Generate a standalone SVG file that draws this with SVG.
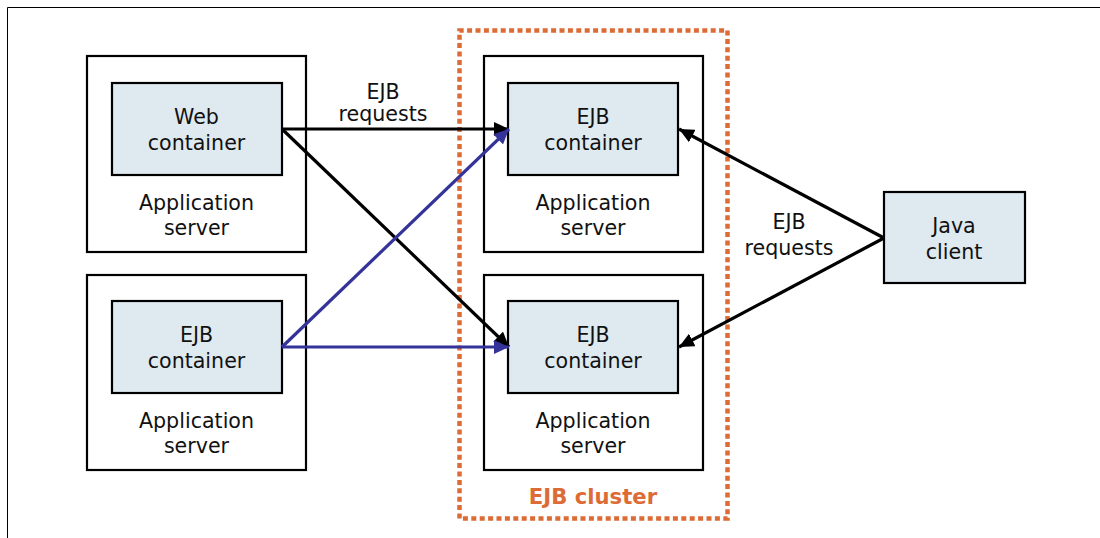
<svg xmlns="http://www.w3.org/2000/svg" width="1100" height="538" viewBox="0 0 1100 538">
<style>
text{font-family:"DejaVu Sans",Verdana,sans-serif;font-size:20.6px;fill:#111;text-anchor:middle}
.s{fill:#fff;stroke:#000;stroke-width:2.2}
.c{fill:#dfe9f0;stroke:#000;stroke-width:2.2}
.k{fill:none;stroke:#000;stroke-width:3.2;marker-end:url(#ak)}
.b{fill:none;stroke:#333399;stroke-width:3.2;marker-end:url(#ab)}
</style>
<defs>
<marker id="ak" markerUnits="userSpaceOnUse" markerWidth="15" markerHeight="14" refX="15" refY="7" orient="auto"><path d="M0 0L15 7L0 14z" fill="#000"/></marker>
<marker id="ab" markerUnits="userSpaceOnUse" markerWidth="15" markerHeight="14" refX="15" refY="7" orient="auto"><path d="M0 0L15 7L0 14z" fill="#333399"/></marker>
</defs>
<rect width="1100" height="538" fill="#fff"/>
<path d="M7.5 538V7.5H1100" fill="none" stroke="#000" stroke-width="1"/>
<g id="cluster">
<path d="M459.500 518.500V30.500H727.500V518.500H459.500" fill="none" stroke="#dd6b35" stroke-width="4.500" stroke-dasharray="5 3.400"/>
<text x="593" y="504" style="fill:#dd6b35;font-weight:bold;font-size:21.2px">EJB cluster</text>
</g>
<g id="server-web"><rect class="s" x="87" y="56" width="219" height="196"/><text x="196.500" y="210">Application</text><text x="196.500" y="235">server</text></g>
<g id="web-container"><rect class="c" x="112" y="83" width="170" height="92"/><text x="196.500" y="124">Web</text><text x="196.500" y="150">container</text></g>
<g id="server-ejb-left"><rect class="s" x="87" y="275" width="219" height="195"/><text x="196.500" y="428">Application</text><text x="196.500" y="453">server</text></g>
<g id="ejb-container-left"><rect class="c" x="112" y="301" width="170" height="92"/><text x="196.500" y="342">EJB</text><text x="196.500" y="368">container</text></g>
<g id="server-top"><rect class="s" x="484" y="56" width="219" height="196"/><text x="593" y="210">Application</text><text x="593" y="235">server</text></g>
<g id="ejb-container-top"><rect class="c" x="508" y="83" width="170" height="92"/><text x="593" y="124">EJB</text><text x="593" y="150">container</text></g>
<g id="server-bottom"><rect class="s" x="484" y="275" width="219" height="195"/><text x="593" y="428">Application</text><text x="593" y="453">server</text></g>
<g id="ejb-container-bottom"><rect class="c" x="508" y="301" width="170" height="92"/><text x="593" y="342">EJB</text><text x="593" y="368">container</text></g>
<g id="java-client"><rect class="c" x="884" y="192" width="141" height="91"/><text x="954" y="233">Java</text><text x="954" y="259">client</text></g>
<g id="connectors">
<path class="k" d="M282 129H509"/>
<path class="k" d="M282 129L509 347"/>
<path class="b" d="M282 347L509 129"/>
<path class="b" d="M282 347H509"/>
<path class="k" d="M884 238L679 129"/>
<path class="k" d="M884 238L679 347"/>
</g>
<g id="labels">
<text x="383" y="99">EJB</text><text x="383" y="121">requests</text>
<text x="789" y="229">EJB</text><text x="789" y="255">requests</text>
</g>
</svg>
